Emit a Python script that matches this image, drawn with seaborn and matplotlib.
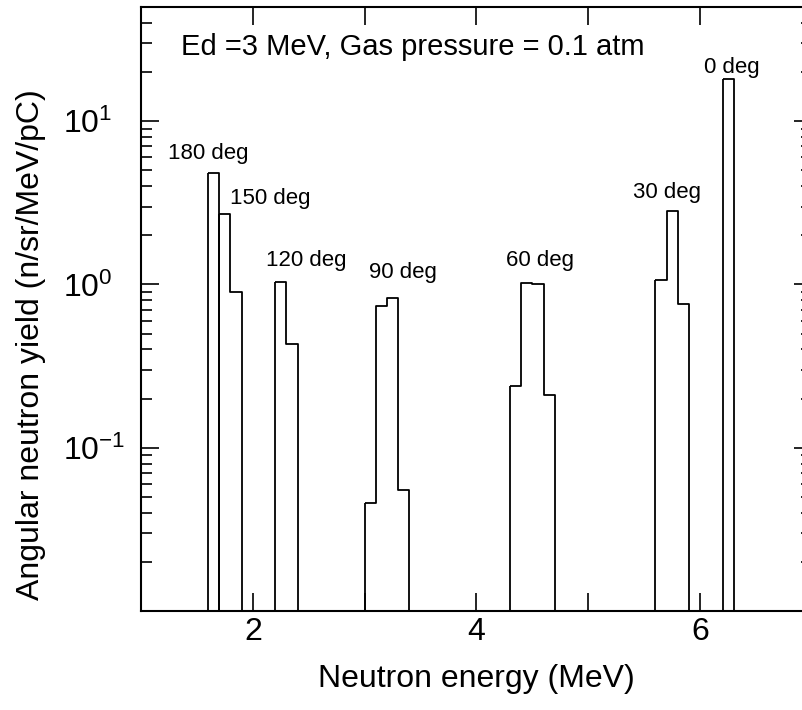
import numpy as np
import pandas as pd
import matplotlib
matplotlib.use("Agg")
import matplotlib.pyplot as plt
import seaborn as sns
from matplotlib.ticker import LogLocator, FuncFormatter, NullFormatter

sns.set_style("ticks")
plt.rcParams['font.family'] = ['Liberation Sans', 'DejaVu Sans']
plt.rcParams.update({'text.color': 'black', 'axes.labelcolor': 'black',
                     'xtick.color': 'black', 'ytick.color': 'black'})

# angular neutron yield per 0.1 MeV bin
angles = ["180 deg", "150 deg", "120 deg", "90 deg", "60 deg", "30 deg", "0 deg"]
edges_180 = [1.6, 1.7]
yield_180 = [4.8]
edges_150 = [1.7, 1.8, 1.9]
yield_150 = [2.7, 0.90]
edges_120 = [2.2, 2.3, 2.4]
yield_120 = [1.04, 0.43]
edges_90 = [3.0, 3.1, 3.2, 3.3, 3.4]
yield_90 = [0.046, 0.74, 0.83, 0.055]
edges_60 = [4.3, 4.4, 4.5, 4.6, 4.7]
yield_60 = [0.24, 1.02, 1.0, 0.21]
edges_30 = [5.6, 5.7, 5.8, 5.9]
yield_30 = [1.07, 2.8, 0.76]
edges_0 = [6.2, 6.3]
yield_0 = [18.1]

all_edges = [edges_180, edges_150, edges_120, edges_90, edges_60, edges_30, edges_0]
all_yields = [yield_180, yield_150, yield_120, yield_90, yield_60, yield_30, yield_0]

# where the angle labels sit
lab_x = [1.60, 2.16, 2.48, 3.34, 4.57, 5.70, 6.28]
lab_y = [5.9, 3.1, 1.3, 1.09, 1.3, 3.4, 19.7]

fig = plt.figure(figsize=(8.03, 7.10), dpi=100)
ax = fig.add_axes([141/803, 99/710, 671/803, 604/710])
ax.set_yscale("log")

for edges, vals in zip(all_edges, all_yields):
    e = np.array(edges)
    df = pd.DataFrame({"energy": (e[:-1] + e[1:]) / 2, "yield": vals})
    sns.histplot(data=df, x="energy", weights="yield", bins=list(edges),
                 element="step", fill=True, color="black", facecolor="none",
                 edgecolor="black", linewidth=1.3, ax=ax)

for name, x, y in zip(angles, lab_x, lab_y):
    ax.text(x, y, name, ha="center", va="baseline", fontsize=16, color="black")

ax.text(0.0596, 0.9205, "Ed =3 MeV, Gas pressure = 0.1 atm", transform=ax.transAxes,
        ha="left", va="baseline", fontsize=21, color="black")

ax.set_xlim(1, 7)
ax.set_ylim(0.01, 50)

ax.set_xticks(range(1, 8))
ax.xaxis.set_major_formatter(FuncFormatter(lambda v, p: f"{v:g}" if v in (2, 4, 6) else ""))
ax.set_yticks([0.1, 1, 10])
ax.yaxis.set_minor_locator(LogLocator(base=10, subs=np.arange(2, 10)))
ax.yaxis.set_minor_formatter(NullFormatter())

ax.tick_params(which="both", direction="in", top=True, right=True, color="black",
               labelcolor="black", width=1.2)
ax.tick_params(which="major", length=13)
ax.tick_params(which="minor", length=8)
ax.tick_params(axis="x", labelsize=23, pad=4)
ax.tick_params(axis="y", labelsize=23, pad=56)
for t in ax.yaxis.get_major_ticks():
    t.label1.set_horizontalalignment("left")

for s in ax.spines.values():
    s.set_linewidth(1.5)
    s.set_color("black")

ax.set_xlabel("Neutron energy (MeV)", fontsize=23, color="black")
ax.set_ylabel("Angular neutron yield (n/sr/MeV/pC)", fontsize=23, color="black")
ax.xaxis.set_label_coords(0.5, -0.088)
ax.yaxis.set_label_coords(-0.142, 0.441)

fig.savefig("out.png", dpi=100)
